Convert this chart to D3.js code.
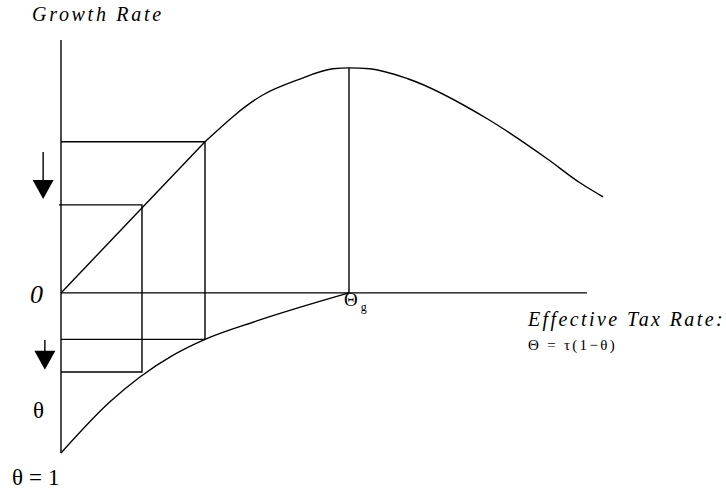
<!DOCTYPE html>
<html>
<head>
<meta charset="utf-8">
<script src="https://cdn.jsdelivr.net/npm/d3@7"></script>
<style>
  body { margin: 0; background: #fff; }
  text { font-family: "Times New Roman", "Liberation Serif", "DejaVu Serif", serif; fill: #000; }
</style>
</head>
<body>
<script>
// x: effective tax rate (Theta_g = 50), y: growth rate above 0, theta below 0 (theta = 1 at -1)
const growthLine = [[0, 0], [25, 0.944]];
const growthCurve = [
  [25, 0.944], [35.1, 1.238], [41.1, 1.331], [47.2, 1.4], [50, 1.406],
  [53.6, 1.4], [60.2, 1.338], [74.0, 1.088], [84.4, 0.838], [90.1, 0.688], [94.1, 0.6]
];
const thetaCurve = [
  [0, -1], [8.5, -0.68], [13.7, -0.525], [19.4, -0.39], [25, -0.29], [34, -0.175], [50, 0]
];
// boxes: x of the right side, growth level on top, theta level below
const boxes = [
  {x: 25, top: 0.944, bottom: -0.29},
  {x: 14.06, top: 0.55, bottom: -0.494}
];
const thetaG = 50;
const axisEnd = {x: 91.3, y: 1.58};
const arrows = [
  {x: -3.1, from: 0.88, to: 0.5875},
  {x: -2.8, from: -0.294, to: -0.48}
];

const width = 726, height = 495;

const svg = d3.select("body").append("svg")
  .attr("width", width)
  .attr("height", height);

const xscale = d3.scaleLinear().domain([0, 50]).range([61, 349]);
const yscale = d3.scaleLinear().domain([-1, 1.58]).range([453, 40]);

const stroke = "#000";
const sw = 1.4;

// axes
svg.append("line")
  .attr("x1", xscale(0)).attr("x2", xscale(0))
  .attr("y1", yscale(axisEnd.y)).attr("y2", yscale(-1))
  .attr("stroke", stroke).attr("stroke-width", sw);
svg.append("line")
  .attr("x1", xscale(0)).attr("x2", xscale(axisEnd.x))
  .attr("y1", yscale(0)).attr("y2", yscale(0))
  .attr("stroke", stroke).attr("stroke-width", sw);

// boxes
boxes.forEach(b => {
  svg.append("path")
    .attr("d", `M${xscale(0) - (b.x < 20 ? 2 : 0)},${yscale(b.top)}H${xscale(b.x)}V${yscale(b.bottom)}H${xscale(0)}`)
    .attr("fill", "none").attr("stroke", stroke).attr("stroke-width", sw);
});

// vertical at Theta_g
svg.append("line")
  .attr("x1", xscale(thetaG)).attr("x2", xscale(thetaG))
  .attr("y1", yscale(1.406)).attr("y2", yscale(0))
  .attr("stroke", stroke).attr("stroke-width", sw);

const line = d3.line()
  .x(d => xscale(d[0]))
  .y(d => yscale(d[1]));
const smooth = d3.line()
  .x(d => xscale(d[0]))
  .y(d => yscale(d[1]))
  .curve(d3.curveMonotoneX);

svg.append("path").datum(growthLine)
  .attr("d", line)
  .attr("fill", "none").attr("stroke", stroke).attr("stroke-width", sw);
svg.append("path").datum(growthCurve)
  .attr("d", smooth)
  .attr("fill", "none").attr("stroke", stroke).attr("stroke-width", sw);
svg.append("path").datum(thetaCurve)
  .attr("d", smooth)
  .attr("fill", "none").attr("stroke", stroke).attr("stroke-width", sw);

// arrows
arrows.forEach(a => {
  const x = xscale(a.x), y0 = yscale(a.from), y1 = yscale(a.to);
  svg.append("line")
    .attr("x1", x).attr("x2", x).attr("y1", y0).attr("y2", y1 - 18)
    .attr("stroke", stroke).attr("stroke-width", sw);
  svg.append("path")
    .attr("d", `M${x - 10.5},${y1 - 19}L${x + 10.5},${y1 - 19}L${x},${y1}Z`)
    .attr("fill", stroke);
});

// labels
svg.append("text")
  .attr("x", 32).attr("y", 21)
  .style("font-style", "italic").style("font-size", "20px").style("letter-spacing", "2.7px")
  .text("Growth Rate");

svg.append("text")
  .attr("x", 30).attr("y", 303)
  .style("font-style", "italic").style("font-size", "26px")
  .text("0");

svg.append("text")
  .attr("x", 33).attr("y", 418)
  .style("font-size", "23px")
  .text("θ");

svg.append("text")
  .attr("x", 12).attr("y", 485)
  .style("font-size", "23px").style("letter-spacing", "6px")
  .text("θ=1");

const tg = svg.append("text")
  .attr("x", xscale(thetaG) - 5).attr("y", 306)
  .style("font-size", "19px");
tg.append("tspan").text("Θ");
tg.append("tspan").attr("dx", 3).attr("dy", 5).style("font-size", "12px").text("g");

svg.append("text")
  .attr("x", 528).attr("y", 326)
  .style("font-style", "italic").style("font-size", "20px").style("letter-spacing", "2.4px")
  .text("Effective Tax Rate:");

svg.append("text")
  .attr("x", 528).attr("y", 350)
  .style("font-size", "15px").style("letter-spacing", "2.3px")
  .text("Θ = τ(1−θ)");
</script>
</body>
</html>
